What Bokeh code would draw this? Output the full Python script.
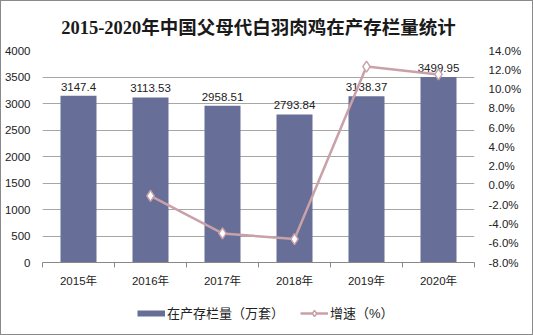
from bokeh.plotting import figure
from bokeh.layouts import column
from bokeh.models import (Range1d, LinearAxis, FixedTicker, Legend, LegendItem,
                          ColumnDataSource, Title)
from bokeh.core.properties import value
from bokeh.embed import file_html
from bokeh.resources import INLINE

years = ["2015年", "2016年", "2017年", "2018年", "2019年", "2020年"]
stock = [3147.4, 3113.53, 2958.51, 2793.84, 3138.37, 3499.95]
growth = [None, -1.08, -4.98, -5.57, 12.33, 11.52]

title_text = "2015-2020年中国父母代白羽肉鸡在产存栏量统计"
bar_name = "在产存栏量（万套）"
line_name = "增速（%）"

BAR = "#676f98"
LINE = "#c9a1a8"
FONT = "'Liberation Sans', 'Noto Sans CJK SC'"

xs = list(range(len(years)))
src = ColumnDataSource(dict(x=xs, stock=stock, label=[f"{v:g}" for v in stock]))
gx = [x for x, g in zip(xs, growth) if g is not None]
gy = [g for g in growth if g is not None]
lsrc = ColumnDataSource(dict(x=gx, y=gy))

p = figure(width=531, height=288, output_backend="svg", toolbar_location=None,
           x_range=Range1d(-0.5, len(years) - 0.5), y_range=Range1d(0, 4000),
           min_border_left=41, min_border_right=58, min_border_top=49, min_border_bottom=25,
           title=None)
p.outline_line_color = None
p.background_fill_color = "white"
p.border_fill_color = "white"

t = Title(text=title_text, align="center", text_font=FONT.replace("Liberation Sans", "Liberation Serif"),
          text_font_size="18.5px", text_font_style="bold", text_color="#1a1a1a", standoff=26)
p.add_layout(t, "above")

p.extra_y_ranges = {"g": Range1d(-8, 14)}

# bars
p.vbar(x="x", top="stock", width=0.5, source=src, fill_color=BAR, line_color=None)
p.text(x="x", y="stock", text="label", source=src, text_align="center", text_baseline="bottom",
       y_offset=-5, text_font=value("Liberation Sans"), text_font_size="11.5px", text_color="#222222")

# line
ln = p.line(x="x", y="y", source=lsrc, y_range_name="g", line_color=LINE, line_width=2.5)
mk = p.scatter(x="x", y="y", source=lsrc, y_range_name="g", marker="diamond", size=11,
               fill_color="white", line_color=LINE, line_width=1.5)

# axes
p.xaxis.ticker = FixedTicker(ticks=xs, minor_ticks=[x - 0.5 for x in xs] + [xs[-1] + 0.5])
p.xaxis.major_label_overrides = {x: y for x, y in zip(xs, years)}
p.xaxis.major_tick_line_color = None
p.xaxis.minor_tick_out = 5
p.xaxis.minor_tick_in = 0
p.xaxis.minor_tick_line_color = "#888888"
p.xaxis.axis_line_color = "#888888"
p.xaxis.major_label_text_font = FONT
p.xaxis.major_label_text_font_size = "11.5px"
p.xaxis.major_label_text_color = "#222222"
p.xaxis.major_label_standoff = 6

p.yaxis.ticker = FixedTicker(ticks=list(range(0, 4001, 500)))
p.yaxis.axis_line_color = None
p.yaxis.major_tick_line_color = None
p.yaxis.minor_tick_line_color = None
p.yaxis.major_label_text_font = FONT
p.yaxis.major_label_text_font_size = "11.5px"
p.yaxis.major_label_text_color = "#222222"
p.yaxis.major_label_standoff = 6

ra = LinearAxis(y_range_name="g", ticker=FixedTicker(ticks=list(range(-8, 15, 2))))
ra.major_label_overrides = {v: f"{v:.1f}%" for v in range(-8, 15, 2)}
ra.axis_line_color = None
ra.major_tick_line_color = None
ra.minor_tick_line_color = None
ra.major_label_text_font = FONT
ra.major_label_text_font_size = "11.5px"
ra.major_label_text_color = "#222222"
ra.major_label_standoff = 8
p.add_layout(ra, "right")

p.xgrid.grid_line_color = None
p.ygrid.grid_line_color = "#a6a6a6"
p.ygrid.grid_line_width = 1

# legend strip (legend glyph renderers sit outside the strip's visible range)
lf = figure(width=531, height=45, output_backend="svg", toolbar_location=None,
            x_range=Range1d(0, 1), y_range=Range1d(0, 1),
            min_border_left=0, min_border_right=0, min_border_top=0, min_border_bottom=0)
lf.axis.visible = False
lf.grid.visible = False
lf.outline_line_color = None
lf.border_fill_color = "white"
proxy_leg = lf.line(x=[-5, -4], y=[-5, -5], line_color=BAR, line_width=6)
ln_leg = lf.line(x=[-5, -4], y=[-5, -5], line_color=LINE, line_width=2.5)
mk_leg = lf.scatter(x=[-5], y=[-5], marker="diamond", size=11, fill_color="white",
                    line_color=LINE, line_width=1.5)

legend = Legend(items=[LegendItem(label=bar_name, renderers=[proxy_leg]),
                       LegendItem(label=line_name, renderers=[ln_leg, mk_leg])],
                orientation="horizontal", location=(95, 12),
                label_text_font=FONT, label_text_font_size="13px", label_text_color="#222222",
                glyph_width=28, glyph_height=16, spacing=16, padding=2, margin=0,
                border_line_color=None, background_fill_alpha=0, label_standoff=2)
lf.add_layout(legend, "center")

layout = column(p, lf, spacing=0, styles={"border": "1px solid #8a8a8a", "background": "white"})
open("out.html", "w").write(file_html(layout, INLINE))
